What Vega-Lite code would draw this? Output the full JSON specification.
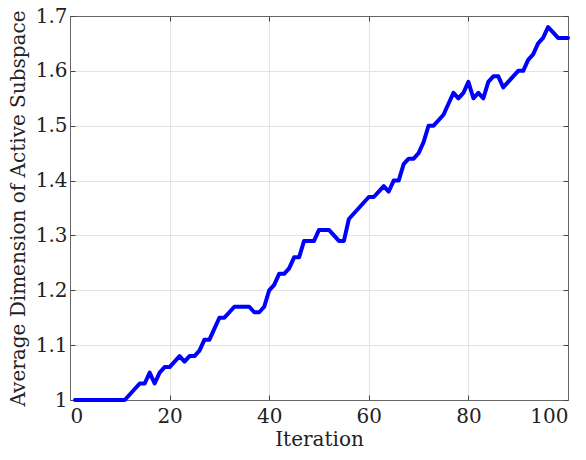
{
  "$schema": "https://vega.github.io/schema/vega-lite/v6.json",
  "width": 498,
  "height": 384,
  "autosize": {"type": "none"},
  "padding": {"left": 70, "top": 16, "right": 18, "bottom": 60},
  "background": "white",
  "config": {
    "font": "DejaVu Serif",
    "view": {"stroke": "#666666", "strokeWidth": 1},
    "axis": {
      "labelFont": "DejaVu Serif",
      "titleFont": "DejaVu Serif",
      "labelFontSize": 20,
      "titleFontSize": 20,
      "labelColor": "#222222",
      "titleColor": "#222222",
      "titleFontWeight": "normal",
      "domainColor": "#666666",
      "tickColor": "#444444",
      "tickSize": -5,
      "gridColor": "#e3e3e3",
      "gridWidth": 1
    }
  },
  "data": {
    "values": [
      {"it": 1, "v": 1.00}, {"it": 2, "v": 1.00}, {"it": 3, "v": 1.00}, {"it": 4, "v": 1.00}, {"it": 5, "v": 1.00},
      {"it": 6, "v": 1.00}, {"it": 7, "v": 1.00}, {"it": 8, "v": 1.00}, {"it": 9, "v": 1.00}, {"it": 10, "v": 1.00},
      {"it": 11, "v": 1.00}, {"it": 12, "v": 1.01}, {"it": 13, "v": 1.02}, {"it": 14, "v": 1.03}, {"it": 15, "v": 1.03},
      {"it": 16, "v": 1.05}, {"it": 17, "v": 1.03}, {"it": 18, "v": 1.05}, {"it": 19, "v": 1.06}, {"it": 20, "v": 1.06},
      {"it": 21, "v": 1.07}, {"it": 22, "v": 1.08}, {"it": 23, "v": 1.07}, {"it": 24, "v": 1.08}, {"it": 25, "v": 1.08},
      {"it": 26, "v": 1.09}, {"it": 27, "v": 1.11}, {"it": 28, "v": 1.11}, {"it": 29, "v": 1.13}, {"it": 30, "v": 1.15},
      {"it": 31, "v": 1.15}, {"it": 32, "v": 1.16}, {"it": 33, "v": 1.17}, {"it": 34, "v": 1.17}, {"it": 35, "v": 1.17},
      {"it": 36, "v": 1.17}, {"it": 37, "v": 1.16}, {"it": 38, "v": 1.16}, {"it": 39, "v": 1.17}, {"it": 40, "v": 1.20},
      {"it": 41, "v": 1.21}, {"it": 42, "v": 1.23}, {"it": 43, "v": 1.23}, {"it": 44, "v": 1.24}, {"it": 45, "v": 1.26},
      {"it": 46, "v": 1.26}, {"it": 47, "v": 1.29}, {"it": 48, "v": 1.29}, {"it": 49, "v": 1.29}, {"it": 50, "v": 1.31},
      {"it": 51, "v": 1.31}, {"it": 52, "v": 1.31}, {"it": 53, "v": 1.30}, {"it": 54, "v": 1.29}, {"it": 55, "v": 1.29},
      {"it": 56, "v": 1.33}, {"it": 57, "v": 1.34}, {"it": 58, "v": 1.35}, {"it": 59, "v": 1.36}, {"it": 60, "v": 1.37},
      {"it": 61, "v": 1.37}, {"it": 62, "v": 1.38}, {"it": 63, "v": 1.39}, {"it": 64, "v": 1.38}, {"it": 65, "v": 1.40},
      {"it": 66, "v": 1.40}, {"it": 67, "v": 1.43}, {"it": 68, "v": 1.44}, {"it": 69, "v": 1.44}, {"it": 70, "v": 1.45},
      {"it": 71, "v": 1.47}, {"it": 72, "v": 1.50}, {"it": 73, "v": 1.50}, {"it": 74, "v": 1.51}, {"it": 75, "v": 1.52},
      {"it": 76, "v": 1.54}, {"it": 77, "v": 1.56}, {"it": 78, "v": 1.55}, {"it": 79, "v": 1.56}, {"it": 80, "v": 1.58},
      {"it": 81, "v": 1.55}, {"it": 82, "v": 1.56}, {"it": 83, "v": 1.55}, {"it": 84, "v": 1.58}, {"it": 85, "v": 1.59},
      {"it": 86, "v": 1.59}, {"it": 87, "v": 1.57}, {"it": 88, "v": 1.58}, {"it": 89, "v": 1.59}, {"it": 90, "v": 1.60},
      {"it": 91, "v": 1.60}, {"it": 92, "v": 1.62}, {"it": 93, "v": 1.63}, {"it": 94, "v": 1.65}, {"it": 95, "v": 1.66},
      {"it": 96, "v": 1.68}, {"it": 97, "v": 1.67}, {"it": 98, "v": 1.66}, {"it": 99, "v": 1.66}, {"it": 100, "v": 1.66}
    ]
  },
  "layer": [
    {
      "mark": {"type": "line", "color": "#0000ff", "strokeWidth": 4, "strokeJoin": "round", "strokeCap": "round"},
      "encoding": {
        "x": {
          "field": "it", "type": "quantitative",
          "scale": {"domain": [0, 100], "nice": false},
          "axis": {"title": "Iteration", "values": [0, 20, 40, 60, 80, 100], "titlePadding": 3, "labelPadding": 11}
        },
        "y": {
          "field": "v", "type": "quantitative",
          "scale": {"domain": [1, 1.7], "nice": false, "zero": false},
          "axis": {"title": "Average Dimension of Active Subspace", "values": [1, 1.1, 1.2, 1.3, 1.4, 1.5, 1.6, 1.7], "labelExpr": "datum.value == 1 ? '1' : format(datum.value, '.1f')", "titlePadding": 7, "labelPadding": 8}
        }
      }
    },
    {
      "mark": {"type": "line", "opacity": 0},
      "encoding": {
        "x": {
          "field": "it", "type": "quantitative",
          "scale": {"domain": [0, 100], "nice": false},
          "axis": {"orient": "top", "title": null, "labels": false, "grid": false, "values": [0, 20, 40, 60, 80, 100]}
        },
        "y": {
          "field": "v", "type": "quantitative",
          "scale": {"domain": [1, 1.7], "nice": false, "zero": false},
          "axis": {"orient": "right", "title": null, "labels": false, "grid": false, "values": [1, 1.1, 1.2, 1.3, 1.4, 1.5, 1.6, 1.7]}
        }
      }
    }
  ],
  "resolve": {"axis": {"x": "independent", "y": "independent"}}
}
